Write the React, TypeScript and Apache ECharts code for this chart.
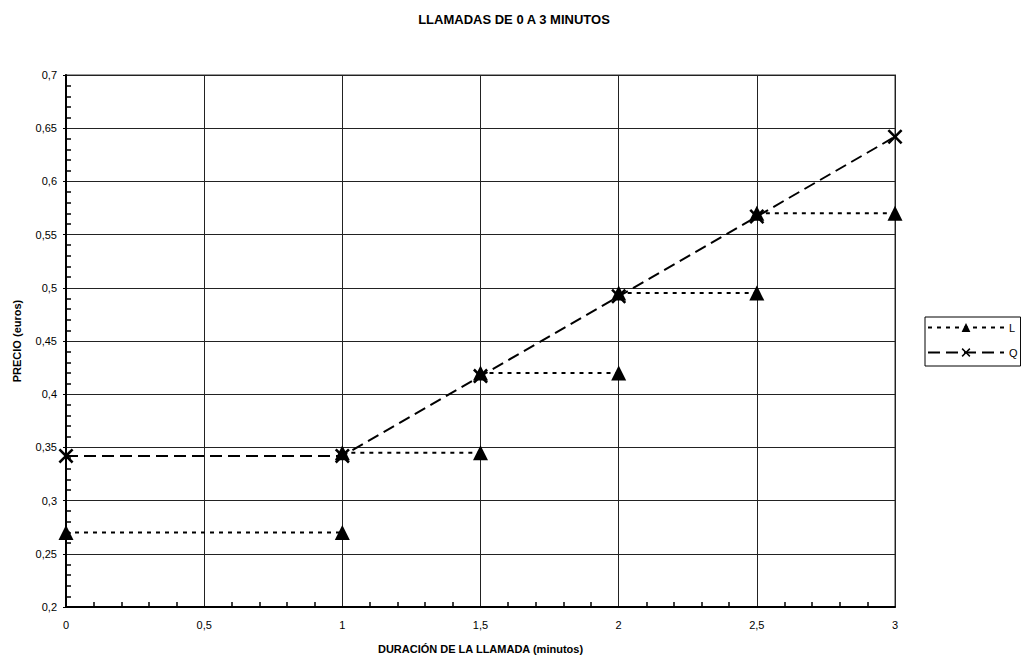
import React, { useEffect, useRef } from "react";
import * as echarts from "echarts";

const stepX = [0, 1, 1.5, 2, 2.5, 3];
const lValues = [0.27, 0.345, 0.42, 0.495, 0.57];
const qX = [0, 1, 1.5, 2, 2.5, 3];
const qValues = [0.342, 0.342, 0.417, 0.492, 0.567, 0.642];

const FONT = "Liberation Sans, Arial, sans-serif";
const fmt = (v: number) => String(+v.toFixed(2)).replace(".", ",");
const XSYM = "path://M0,1.2L1.2,0L5,3.8L8.8,0L10,1.2L6.2,5L10,8.8L8.8,10L5,6.2L1.2,10L0,8.8L3.8,5Z";

export default function App() {
  const ref = useRef<HTMLDivElement>(null);
  useEffect(() => {
    const chart = echarts.init(ref.current!, null, { renderer: "svg" });
    const lData: any[] = [];
    lValues.forEach((v, i) => {
      lData.push([stepX[i], v]);
      lData.push([stepX[i + 1], v]);
      if (i < lValues.length - 1) lData.push([stepX[i + 1], "-"]);
    });
    const qData = qX.map((x, i) => [x, qValues[i]]);
    chart.setOption({
      animation: false,
      backgroundColor: "#fff",
      textStyle: { fontFamily: FONT },
      title: {
        text: "LLAMADAS DE 0 A 3 MINUTOS",
        left: 509,
        textAlign: "center",
        top: 8,
        textStyle: { fontSize: 13, fontWeight: "bold", color: "#000", fontFamily: FONT },
      },
      grid: { left: 66, right: 126, top: 75, bottom: 53, show: true, borderColor: "#999", borderWidth: 2 },
      legend: {
        left: 925,
        top: 317,
        orient: "vertical",
        borderColor: "#000",
        borderWidth: 1,
        padding: [5, 3, 8, 2],
        itemGap: 14,
        itemWidth: 76,
        itemHeight: 11,
        textStyle: { fontSize: 11, color: "#000" },
        data: ["L", "Q"],
      },
      xAxis: {
        type: "value",
        min: 0,
        max: 3,
        interval: 0.5,
        name: "DURACIÓN DE LA LLAMADA (minutos)",
        nameLocation: "middle",
        nameGap: 36,
        nameTextStyle: { fontSize: 11, fontWeight: "bold", color: "#000" },
        axisLine: { lineStyle: { color: "#000", width: 2 } },
        axisTick: { show: false },
        minorTick: { show: true, splitNumber: 5, length: -5, lineStyle: { color: "#000", width: 1.5 } },
        axisLabel: { fontSize: 11, color: "#000", margin: 12, formatter: fmt },
        splitLine: { show: true, lineStyle: { color: "#222", width: 1 } },
      },
      yAxis: {
        type: "value",
        min: 0.2,
        max: 0.7,
        interval: 0.05,
        name: "PRECIO (euros)",
        nameLocation: "middle",
        nameGap: 44,
        nameTextStyle: { fontSize: 11, fontWeight: "bold", color: "#000" },
        axisLine: { show: true, lineStyle: { color: "#000", width: 2 } },
        axisTick: { show: true, length: 3, lineStyle: { color: "#000" } },
        minorTick: { show: true, splitNumber: 5, length: -5, lineStyle: { color: "#000", width: 1.5 } },
        axisLabel: { fontSize: 11, color: "#000", margin: 9, formatter: fmt },
        splitLine: { show: true, lineStyle: { color: "#222", width: 1 } },
      },
      series: [
        {
          name: "L",
          type: "line",
          data: lData,
          connectNulls: false,
          symbol: "triangle",
          symbolSize: [15, 15],
          lineStyle: { color: "#000", width: 2, type: [4, 5] },
          itemStyle: { color: "#000" },
          z: 3,
        },
        {
          name: "Q",
          type: "line",
          data: qData,
          symbol: XSYM,
          symbolSize: 15,
          lineStyle: { color: "#000", width: 2, type: [12, 6] },
          itemStyle: { color: "#000" },
          z: 4,
        },
      ],
    });
    return () => chart.dispose();
  }, []);
  return <div ref={ref} style={{ width: 1021, height: 660, position: "absolute", left: 0, top: 0 }} />;
}
